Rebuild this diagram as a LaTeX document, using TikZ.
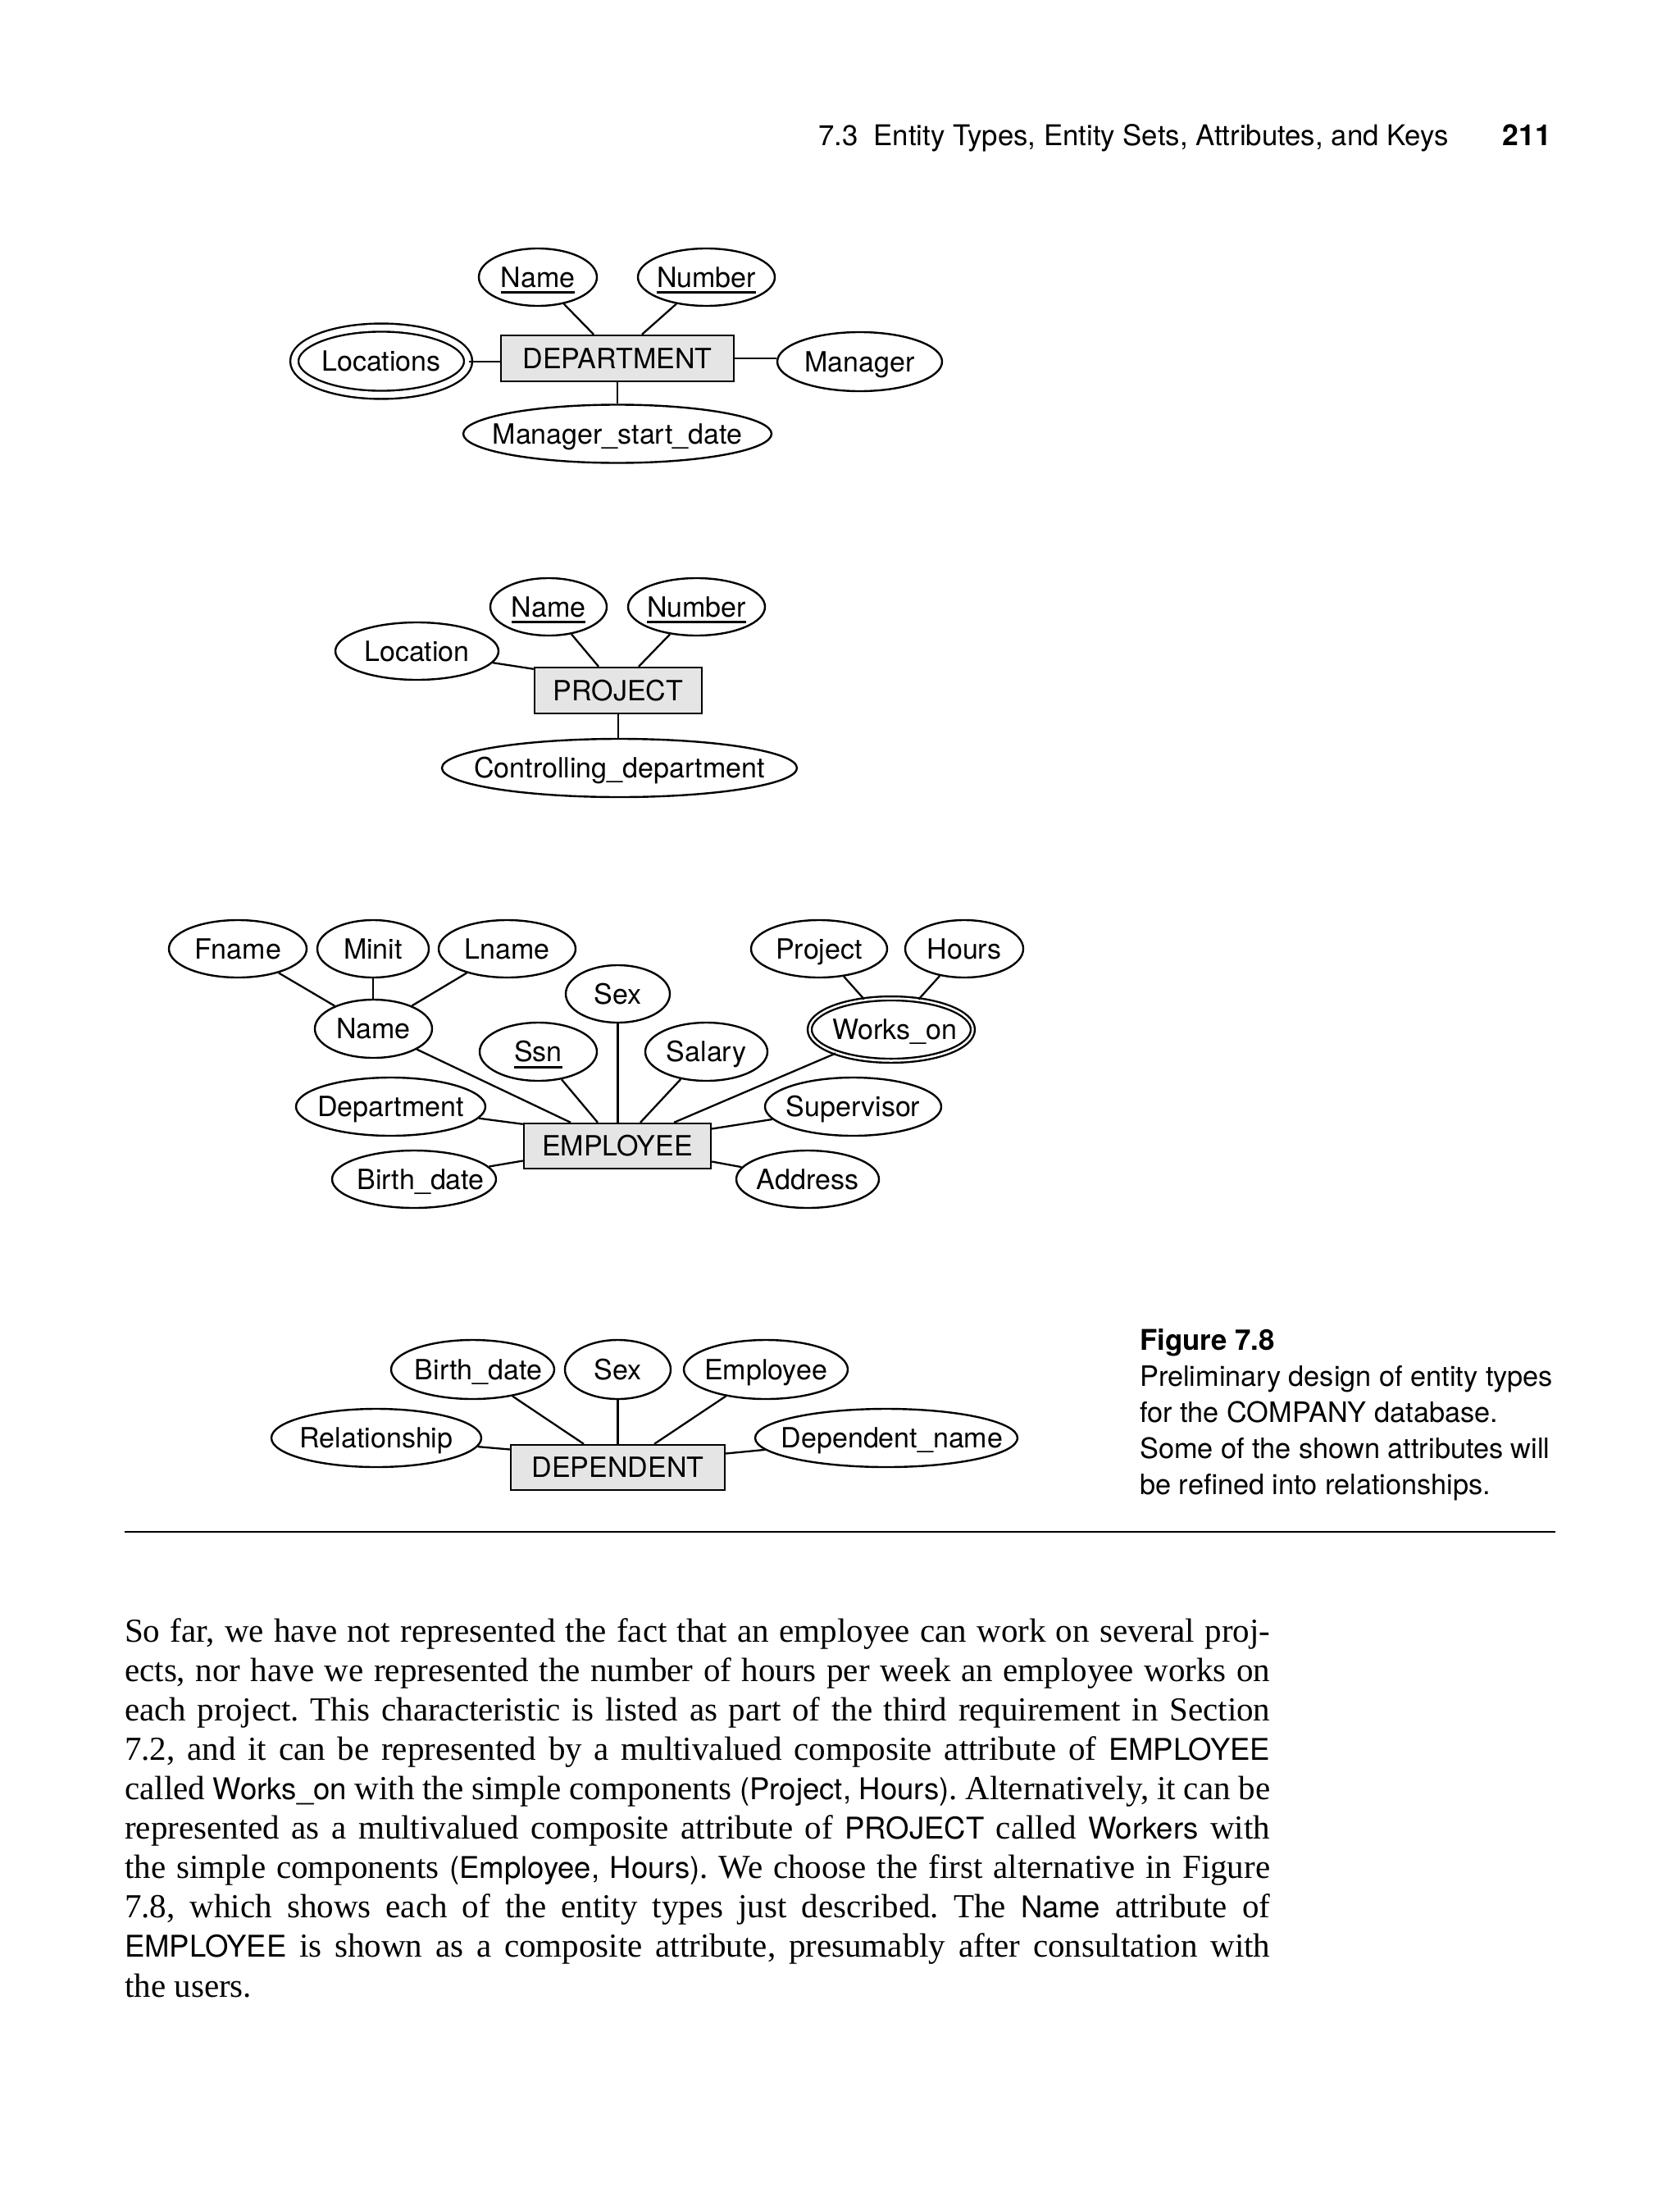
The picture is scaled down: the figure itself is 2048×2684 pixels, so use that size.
\documentclass[tikz,border=0pt]{standalone}
\usepackage{fontspec}
\setmainfont{Liberation Serif}
\newfontfamily\hv{TeX Gyre Heros}
\usetikzlibrary{shapes.geometric}
\definecolor{boxgray}{RGB}{229,229,229}
\frenchspacing
\newcommand\lbl[1]{\makebox[0pt][c]{#1}}
\newcommand\keyu[1]{\sbox0{#1}\rlap{\usebox0}\rule[-8pt]{\wd0}{2.8pt}}
\newcommand\bs[1]{{\hv\fontsize{36.5}{40}\selectfont #1}}
\newcommand\bline[1]{\makebox[1397pt][s]{#1}}
\tikzset{
  sz/.style 2 args={minimum width=#1pt, minimum height=#2pt},
  attr/.style={ellipse, draw=black, line width=2.4pt, fill=white, inner sep=0pt,
    text height=24.5pt, text depth=0pt, font=\hv\fontsize{34}{40}\selectfont},
  ent/.style={rectangle, draw=black, line width=2.4pt, fill=boxgray, inner sep=0pt,
    text height=24.5pt, text depth=0pt, font=\hv\fontsize{34}{40}\selectfont},
  conn/.style={line width=2.3pt},
  txt/.style={anchor=base west, inner sep=0pt},
  captxt/.style={txt, font=\hv\fontsize{34.3}{42}\selectfont},
  bodytxt/.style={txt, font=\fontsize{41}{48}\selectfont},
}
\begin{document}
\begin{tikzpicture}[x=1pt,y=-1pt]
\useasboundingbox (0,0) rectangle (2048,2684);
\fill[white] (0,0) rectangle (2048,2684);

% header
\node[txt, font=\hv\fontsize{34.8}{40}\selectfont] (hdr) at (998,178) {7.3\hspace{0.55em}Entity Types, Entity Sets, Attributes, and Keys};
\node[anchor=base east, inner sep=0pt, font=\hv\bfseries\fontsize{35.5}{40}\selectfont] (pg) at (1892,178) {211};

% DEPARTMENT
\node[ent, sz={284}{56}] (dept) at (753,437) {\lbl{DEPARTMENT}};
\node[attr, sz={144}{70}] (dname) at (656,338) {\lbl{\keyu{Name}}};
\node[attr, sz={167}{70}] (dnum) at (861.5,338) {\lbl{\keyu{Number}}};
\node[attr, double, double distance=7.5pt, sz={212}{82}] (dloc) at (465,440.5) {\lbl{Locations}};
\node[attr, sz={201}{72}] (dmgr) at (1048.5,441) {\lbl{Manager}};
\node[attr, sz={376}{71}] (dmsd) at (753,529) {\lbl{Manager\_start\_date}};
\coordinate (dl) at ([yshift=-4pt]dept.west);
\draw[conn] (dname) -- ([xshift=-29pt]dept.north);
\draw[conn] (dnum) -- ([xshift=30pt]dept.north);
\draw[conn] (dl) -- (dl -| dloc.east);
\draw[conn] (dept.east) -- (dept.east -| dmgr.west);
\draw[conn] (dept.south) -- (dept.south |- dmsd.north);

% PROJECT
\node[ent, sz={204}{56}] (proj) at (754,842) {\lbl{PROJECT}};
\node[attr, sz={142}{70}] (pname) at (669,740) {\lbl{\keyu{Name}}};
\node[attr, sz={167}{70}] (pnum) at (849.5,740) {\lbl{\keyu{Number}}};
\node[attr, sz={199}{70}] (ploc) at (508.5,794) {\lbl{Location}};
\node[attr, sz={433}{71}] (pcd) at (755.5,936.5) {\lbl{Controlling\_department}};
\draw[conn] (pname) -- ([xshift=-24pt]proj.north);
\draw[conn] (pnum) -- ([xshift=25pt]proj.north);
\draw[conn] (ploc) -- ([yshift=-3pt]proj.north west);
\draw[conn] (proj.south) -- (proj.south |- pcd.north);

% EMPLOYEE
\node[ent, sz={228}{55}] (emp) at (753,1397.5) {\lbl{EMPLOYEE}};
\node[attr, sz={168}{70}] (fname) at (290,1157) {\lbl{Fname}};
\node[attr, sz={136}{70}] (minit) at (455,1157) {\lbl{Minit}};
\node[attr, sz={167}{70}] (lname) at (618.5,1157) {\lbl{Lname}};
\node[attr, sz={143}{71}] (ename) at (455.5,1254.5) {\lbl{Name}};
\node[attr, sz={127}{70}] (esex) at (753.5,1212) {\lbl{Sex}};
\node[attr, sz={143}{71}] (essn) at (656.5,1282.5) {\lbl{\keyu{Ssn}}};
\node[attr, sz={149}{71}] (esal) at (861.5,1282.5) {\lbl{Salary}};
\node[attr, sz={166}{70}] (eproj) at (999,1157) {\lbl{Project}};
\node[attr, sz={144}{70}] (ehours) at (1176,1157) {\lbl{Hours}};
\node[attr, double, double distance=2.5pt, sz={199}{76}] (eworks) at (1087,1255.5) {\lbl{\hspace{8pt}Works\_on}};
\node[attr, sz={231}{71}] (edept) at (476.5,1349.5) {\lbl{Department}};
\node[attr, sz={215}{71}] (esup) at (1040.5,1349.5) {\lbl{Supervisor}};
\node[attr, sz={200}{70}] (ebirth) at (505,1438) {\lbl{\hspace{16pt}Birth\_date}};
\node[attr, sz={174}{70}] (eaddr) at (985,1438) {\lbl{Address}};
\draw[conn] (fname) -- (ename);
\draw[conn] (minit.south) -- (minit.south |- ename.north);
\draw[conn] (lname) -- (ename);
\draw[conn] (ename) -- ([xshift=-57pt]emp.north);
\draw[conn] (essn) -- ([xshift=-24pt]emp.north);
\draw[conn] (esex.south) -- (esex.south |- emp.north);
\draw[conn] (esal) -- ([xshift=28pt]emp.north);
\draw[conn] (eworks) -- ([xshift=69pt]emp.north);
\draw[conn] (eproj) -- (eworks);
\draw[conn] (ehours) -- (eworks);
\draw[conn] (edept) -- ([yshift=-2pt]emp.north west);
\draw[conn] (esup) -- ([yshift=21pt]emp.east);
\draw[conn] (ebirth) -- ([yshift=-18pt]emp.west);
\draw[conn] (eaddr) -- ([yshift=-19pt]emp.east);

% DEPENDENT
\node[ent, sz={261}{55}] (dep) at (753.5,1789.5) {\lbl{DEPENDENT}};
\node[attr, sz={199}{72}] (dbirth) at (576.5,1670) {\lbl{\hspace{14pt}Birth\_date}};
\node[attr, sz={129}{72}] (dsex) at (753.5,1670) {\lbl{Sex}};
\node[attr, sz={200}{72}] (demp) at (934,1670) {\lbl{Employee}};
\node[attr, sz={256}{71}] (drel) at (459,1753.5) {\lbl{Relationship}};
\node[attr, sz={320}{71}] (ddn) at (1081,1753.5) {\lbl{\hspace{14pt}Dependent\_name}};
\draw[conn] (dbirth) -- ([xshift=-41.5pt]dep.north);
\draw[conn] (dsex.south) -- (dsex.south |- dep.north);
\draw[conn] (demp) -- ([xshift=44.5pt]dep.north);
\draw[conn] (drel) -- ([yshift=22pt]dep.west);
\draw[conn] (ddn) -- ([yshift=17pt]dep.east);

% caption
\node[captxt, font=\hv\bfseries\fontsize{34.8}{42}\selectfont] (c1) at (1390,1646) {Figure 7.8};
\node[captxt] (c2) at (1390,1690) {Preliminary design of entity types};
\node[captxt] (c3) at (1390,1734) {for the COMPANY database.};
\node[captxt] (c4) at (1390,1778) {Some of the shown attributes will};
\node[captxt] (c5) at (1390,1822) {be refined into relationships.};

% rule
\coordinate (rl) at (152,1868);
\coordinate (rr) at (1897,1868);
\draw[line width=2.5pt] (rl) -- (rr);

% body text
\node[bodytxt] (b1) at (152,2002) {\bline{So far, we have not represented the fact that an employee can work on several proj-}};
\node[bodytxt] (b2) at (152,2050.1) {\bline{ects, nor have we represented the number of hours per week an employee works on}};
\node[bodytxt] (b3) at (152,2098.2) {\bline{each project. This characteristic is listed as part of the third requirement in Section}};
\node[bodytxt] (b4) at (152,2146.3) {\bline{7.2, and it can be represented by a multivalued composite attribute of \bs{EMPLOYEE}}};
\node[bodytxt] (b5) at (152,2194.4) {\bline{called \bs{Works\_on} with the simple components \bs{(Project, Hours)}. Alternatively, it can be}};
\node[bodytxt] (b6) at (152,2242.5) {\bline{represented as a multivalued composite attribute of \bs{PROJECT} called \bs{Workers} with}};
\node[bodytxt] (b7) at (152,2290.6) {\bline{the simple components \bs{(Employee, Hours)}. We choose the first alternative in Figure}};
\node[bodytxt] (b8) at (152,2338.7) {\bline{7.8, which shows each of the entity types just described. The \bs{Name} attribute of}};
\node[bodytxt] (b9) at (152,2386.8) {\bline{\bs{EMPLOYEE} is shown as a composite attribute, presumably after consultation with}};
\node[bodytxt] (b10) at (152,2435) {the users.};
\end{tikzpicture}
\end{document}
